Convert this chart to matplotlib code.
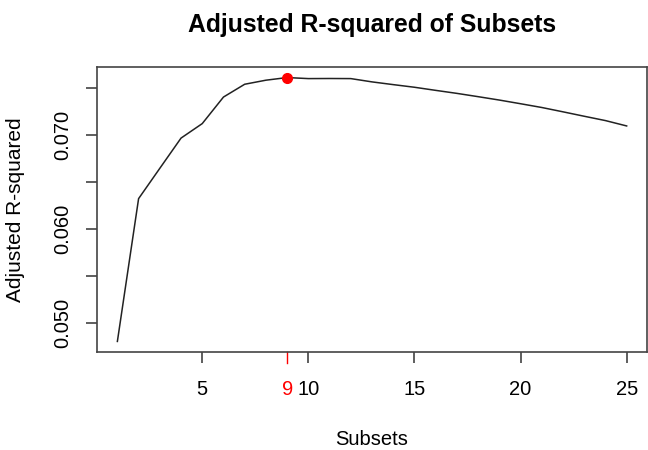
import numpy as np
import matplotlib
matplotlib.use('Agg')
import matplotlib.pyplot as plt

plt.rcParams['font.family'] = ['Liberation Sans', 'DejaVu Sans']

# adjusted R-squared for best subset of each size
subsets = list(range(1, 26))
adj_r2 = [0.04804, 0.06321, 0.06643, 0.06964, 0.07118, 0.07400, 0.07536,
          0.07579, 0.07607, 0.07596, 0.07597, 0.07596, 0.07561, 0.07532,
          0.07504, 0.07471, 0.07439, 0.07404, 0.07368, 0.07329, 0.07289,
          0.07243, 0.07196, 0.07150, 0.07093]
x_ticks = [5, 10, 15, 20, 25]
y_ticks = [0.050, 0.055, 0.060, 0.065, 0.070, 0.075]
y_ticklabels = ['0.050', '', '0.060', '', '0.070', '']

best = subsets[int(np.argmax(adj_r2))]
best_val = max(adj_r2)

fig = plt.figure(figsize=(6.48, 4.5), dpi=100)
ax = fig.add_axes([0.1497, 0.2178, 0.8488, 0.6333])

ax.plot(subsets, adj_r2, color='#222222', lw=1.1)
ax.plot(best, best_val, 'o', color='red', ms=7)

# R style limits: 4% padding
xr = max(subsets) - min(subsets)
yr = max(adj_r2) - min(adj_r2)
ax.set_xlim(min(subsets) - 0.04 * xr, max(subsets) + 0.04 * xr)
ax.set_ylim(min(adj_r2) - 0.04 * yr, max(adj_r2) + 0.04 * yr)

ax.set_xticks(sorted(x_ticks + [best]))
ax.set_yticks(y_ticks)
ax.set_yticklabels(y_ticklabels)
ax.tick_params(axis='both', length=8, width=1.1, color='#333333',
               labelsize=14.5)
ax.tick_params(axis='x', pad=12)
ax.tick_params(axis='y', pad=10)
plt.setp(ax.get_yticklabels(), rotation=90, va='center', ha='right')

# best subset tick in red
for loc, tick in zip(ax.get_xticks(), ax.xaxis.get_major_ticks()):
    if loc == best:
        tick.tick1line.set_visible(False)
        tick.label1.set_color('red')
ax.plot([best, best], [0, -8 / 72 * 100 / 285], color='red', lw=1.0,
        transform=ax.get_xaxis_transform(), clip_on=False)

for s in ax.spines.values():
    s.set_linewidth(1.2)
    s.set_color('#444444')

ax.set_title('Adjusted R-squared of Subsets', fontsize=17.8,
             fontweight='bold', pad=25)
ax.set_xlabel('Subsets', fontsize=14.5)
ax.set_ylabel('Adjusted R-squared', fontsize=15)
ax.xaxis.label.set_va('center')
ax.xaxis.set_label_coords(0.5, (352 - 440) / 285)
ax.yaxis.label.set_va('center')
ax.yaxis.set_label_coords((15 - 97) / 550, 0.5)

fig.savefig('out.png', dpi=100)
